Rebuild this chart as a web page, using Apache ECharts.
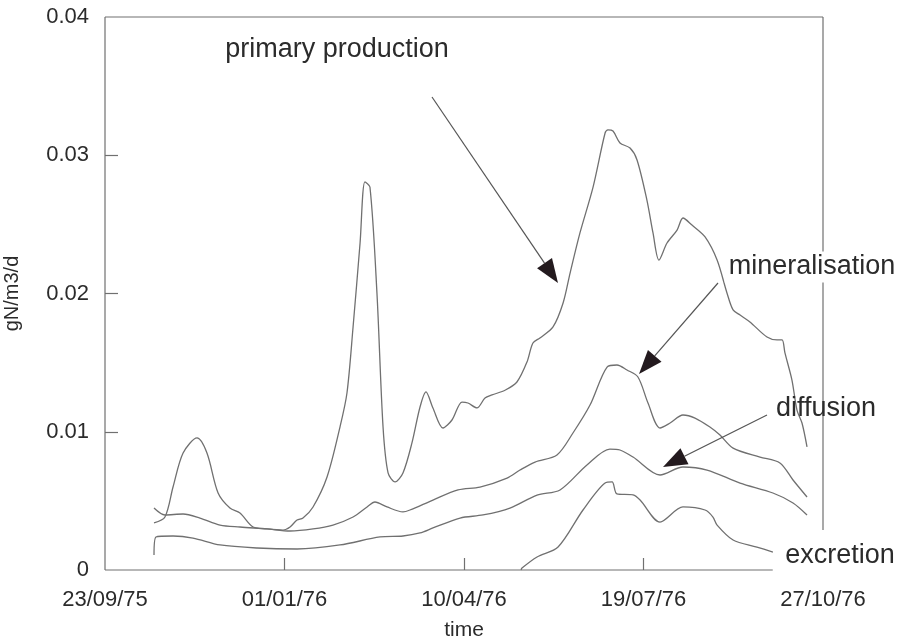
<!DOCTYPE html>
<html><head><meta charset="utf-8">
<script src="https://cdn.jsdelivr.net/npm/echarts@6/dist/echarts.min.js"></script>
<style>html,body{margin:0;padding:0;background:#fff}#c{width:899px;height:637px}</style>
</head><body><div id="c"></div>
<script>
// x = days since 23/09/75
const xTickValues = [0, 100, 200, 300, 400];
const xTickLabels = ["23/09/75", "01/01/76", "10/04/76", "19/07/76", "27/10/76"];
const yTickValues = [0, 0.01, 0.02, 0.03, 0.04];
const yTickLabels = ["0", "0.01", "0.02", "0.03", "0.04"];

const ppDays = [27.3,33.4,37.9,43.5,51.3,56.8,63.0,69.6,75.2,82.5,90.3,99.2,103.1,107.0,110.3,115.9,123.7,130.9,134.8,138.2,142.1,144.8,147.6,151.5,154.9,157.7,161.6,166.0,171.0,175.5,178.8,182.7,188.3,193.3,198.9,202.2,207.2,211.7,215.6,223.1,229.5,235.1,238.4,242.3,249.6,255.2,259.1,264.6,271.9,278.6,280.2,283.0,286.9,292.5,296.4,301.9,305.3,308.6,313.1,318.7,322.0,327.0,334.3,341.0,346.5,349.9,353.8,359.3,368.8,374.4,377.2,378.8,382.7,385.5,388.3,391.1];
const ppValues = [0.0034,0.00383,0.0060,0.00846,0.00955,0.00846,0.00557,0.00448,0.00412,0.00311,0.00297,0.00289,0.00311,0.00362,0.00376,0.00456,0.00673,0.01034,0.0128,0.01758,0.02365,0.02807,0.0277,0.02004,0.01034,0.00702,0.00637,0.00702,0.00919,0.01179,0.01288,0.01172,0.01027,0.01085,0.01215,0.01208,0.01172,0.01244,0.01266,0.01302,0.0136,0.01505,0.01642,0.01678,0.01758,0.01931,0.02148,0.02438,0.0277,0.03161,0.03183,0.03175,0.03089,0.03052,0.02966,0.02676,0.02438,0.02242,0.02365,0.02459,0.02546,0.02495,0.02409,0.02242,0.02004,0.01881,0.01844,0.01794,0.01685,0.01664,0.01664,0.0157,0.01374,0.01157,0.01063,0.0089];

const minDays = [27.3,33.4,43.5,52.9,64.1,75.2,90.3,103.1,115.9,127.0,138.2,146.0,150.4,157.1,166.0,169.9,182.7,196.7,208.9,224.0,231.2,239.6,251.8,260.7,270.2,279.7,285.2,290.8,296.9,302.5,309.2,314.8,322.0,328.7,337.0,342.6,349.9,364.9,376.0,383.3,391.1];
const minValues = [0.00448,0.00398,0.00405,0.00376,0.00325,0.00311,0.00297,0.00282,0.00297,0.00325,0.00383,0.00456,0.00492,0.00456,0.0042,0.00434,0.00506,0.00579,0.006,0.00665,0.00723,0.00781,0.00832,0.00991,0.01193,0.01468,0.01483,0.01447,0.01396,0.01208,0.01027,0.01063,0.01121,0.01099,0.01034,0.00976,0.00882,0.00817,0.00774,0.00651,0.00528];

const difDays = [27.3,28.4,37.9,49.0,64.1,84.7,107.0,130.9,153.2,166.0,175.5,182.7,197.8,210.6,225.6,240.7,253.5,268.5,281.3,286.9,294.2,309.2,322.0,335.4,353.8,372.1,383.3,391.1];
const difValues = [0.00108,0.00239,0.00246,0.00231,0.00181,0.00159,0.00152,0.00181,0.00239,0.00246,0.00268,0.00304,0.00376,0.00398,0.00448,0.00542,0.00579,0.0076,0.00875,0.00868,0.00817,0.00687,0.00745,0.00723,0.00629,0.00557,0.00485,0.00398];

const excDays = [231.8,232.3,240.7,252.4,266.3,278.6,282.5,285.2,294.2,298.1,309.2,322.0,334.3,338.7,341.0,349.9,363.2,372.1];
const excValues = [0,0.00014,0.00094,0.00166,0.00434,0.00629,0.00637,0.0055,0.00543,0.00506,0.00347,0.00456,0.00434,0.00383,0.00325,0.00217,0.00166,0.0013];

const FONT = "'Liberation Sans', Arial, Helvetica, sans-serif";
const LINE = '#707070';
const TXT = '#2b2b2b';

function zip(d, v) { return d.map((x, i) => [x, v[i]]); }
function mkSeries(name, d, v) {
  return { name, type: 'line', data: zip(d, v), showSymbol: false, smooth: 0.3,
    lineStyle: { color: LINE, width: 1.3 }, itemStyle: { color: LINE }, z: 3, silent: true };
}

const chart = echarts.init(document.getElementById('c'), null, { renderer: 'canvas' });
const option = {
  animation: false,
  backgroundColor: '#fff',
  grid: { left: 105, right: 76, top: 17, bottom: 67, containLabel: false, outerBoundsMode: 'none' },
  xAxis: {
    type: 'value', min: 0, max: 400, interval: 100,
    name: 'time', nameLocation: 'middle', nameGap: 50,
    nameTextStyle: { fontFamily: FONT, fontSize: 21, color: TXT },
    axisLine: { show: false },
    axisTick: { show: true, inside: true, length: 12, customValues: [100, 200, 300], lineStyle: { color: LINE, width: 1.2 } },
    axisLabel: { fontFamily: FONT, fontSize: 22, color: TXT, margin: 19, customValues: xTickValues,
      formatter: v => xTickLabels[Math.round(v / 100)] },
    splitLine: { show: false }
  },
  yAxis: {
    type: 'value', min: 0, max: 0.04, interval: 0.01,
    name: 'gN/m3/d', nameLocation: 'middle', nameGap: 83, nameRotate: 90,
    nameTextStyle: { fontFamily: FONT, fontSize: 20, color: TXT },
    axisLine: { show: false },
    axisTick: { show: true, inside: true, length: 13, customValues: [0.01, 0.02, 0.03], lineStyle: { color: LINE, width: 1.2 } },
    axisLabel: { fontFamily: FONT, fontSize: 22, color: TXT, margin: 16, customValues: yTickValues,
      formatter: v => yTickLabels[Math.round(v / 0.01)] },
    splitLine: { show: false }
  },
  series: [
    mkSeries('primary production', ppDays, ppValues),
    mkSeries('mineralisation', minDays, minValues),
    mkSeries('diffusion', difDays, difValues),
    mkSeries('excretion', excDays, excValues)
  ]
};
chart.setOption(option);

const p = (d, v) => chart.convertToPixel({ gridIndex: 0 }, [d, v]);
function seg(a, b, z) {
  return { type: 'line', z: z || 1, silent: true, shape: { x1: a[0], y1: a[1], x2: b[0], y2: b[1] },
    style: { stroke: LINE, lineWidth: 1.2 } };
}
function arrow(x1, y1, x2, y2) {
  const dx = x2 - x1, dy = y2 - y1, L = Math.hypot(dx, dy);
  const ux = dx / L, uy = dy / L, len = 24, hw = 9;
  const bx = x2 - ux * len, by = y2 - uy * len;
  return [
    { type: 'line', z: 50, silent: true, shape: { x1, y1, x2: bx, y2: by }, style: { stroke: '#555', lineWidth: 1.2 } },
    { type: 'polygon', z: 51, silent: true, shape: { points: [[x2, y2], [bx - uy * hw, by + ux * hw], [bx + uy * hw, by - ux * hw]] },
      style: { fill: '#231a1e' } }
  ];
}
function label(text, x, y, withBg) {
  return { type: 'text', z: 60, silent: true, x, y,
    style: { text, fontFamily: FONT, fontSize: 27, fill: TXT, align: 'center', verticalAlign: 'middle',
      backgroundColor: withBg ? '#fff' : null, padding: withBg ? [2, 4] : 0 } };
}
const o = p(0, 0), tl = p(0, 0.04), tr = p(400, 0.04), rEnd = p(400, 0.0029), bEnd = p(372, 0);
const graphic = [
  seg(o, tl), seg(tl, tr), seg(tr, rEnd), seg(o, bEnd),
  ...arrow(432, 97, 558, 283),
  ...arrow(718, 283, 639, 374),
  ...arrow(767, 415, 663, 467),
  label('primary production', 337, 50, false),
  label('mineralisation', 812, 267, true),
  label('diffusion', 826, 409, false),
  label('excretion', 840, 556, false)
];
chart.setOption({ graphic });
</script>
</body></html>
